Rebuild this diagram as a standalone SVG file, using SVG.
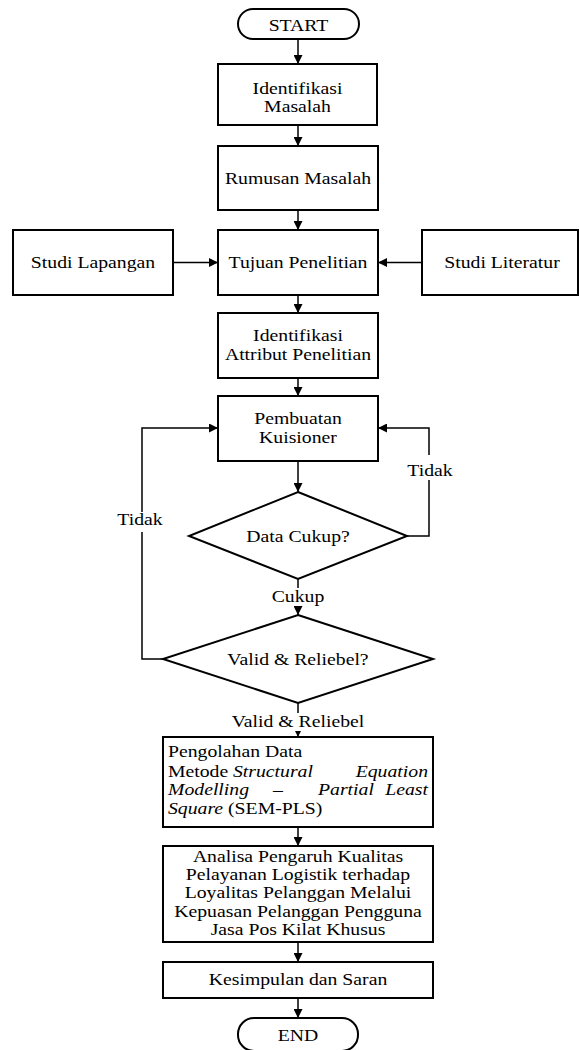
<svg xmlns="http://www.w3.org/2000/svg" width="579" height="1050" viewBox="0 0 579 1050">
<style>
.box{fill:#fff;stroke:#000;stroke-width:2}
.ln{fill:none;stroke:#000;stroke-width:1.5}
.t{font-family:"Liberation Serif","Times New Roman",serif;font-size:17px;fill:#000}
.c{text-anchor:middle}
.e{text-anchor:end}
.i{font-style:italic}
.bg{fill:#fff}
</style>
<defs>
<marker id="arr" viewBox="0 0 10 10" refX="10" refY="5" markerWidth="9" markerHeight="9" markerUnits="userSpaceOnUse" orient="auto"><path d="M0,0 L10,5 L0,10 z" fill="#000"/></marker>
</defs>
<rect width="579" height="1050" fill="#fff"/>
<g id="connectors">
<line class="ln" x1="298" y1="39" x2="298" y2="64" marker-end="url(#arr)"/>
<line class="ln" x1="298" y1="125" x2="298" y2="146" marker-end="url(#arr)"/>
<line class="ln" x1="298" y1="210" x2="298" y2="230" marker-end="url(#arr)"/>
<line class="ln" x1="173" y1="262.5" x2="218" y2="262.5" marker-end="url(#arr)"/>
<line class="ln" x1="422" y1="262.5" x2="378" y2="262.5" marker-end="url(#arr)"/>
<line class="ln" x1="298" y1="295" x2="298" y2="313" marker-end="url(#arr)"/>
<line class="ln" x1="298" y1="378" x2="298" y2="396" marker-end="url(#arr)"/>
<line class="ln" x1="298" y1="461" x2="298" y2="492" marker-end="url(#arr)"/>
<polyline class="ln" points="407,536 429,536 429,428 378,428" marker-end="url(#arr)"/>
<line class="ln" x1="298" y1="579" x2="298" y2="615" marker-end="url(#arr)"/>
<polyline class="ln" points="163,659 142,659 142,428 218,428" marker-end="url(#arr)"/>
<line class="ln" x1="298" y1="703" x2="298" y2="737" marker-end="url(#arr)"/>
<line class="ln" x1="298" y1="827" x2="298" y2="846" marker-end="url(#arr)"/>
<line class="ln" x1="298" y1="942" x2="298" y2="962" marker-end="url(#arr)"/>
<line class="ln" x1="298" y1="998" x2="298" y2="1018" marker-end="url(#arr)"/>
<rect class="bg" x="406" y="455" width="48" height="25"/>
<text class="t c" transform="translate(430,476) scale(1.16,1)">Tidak</text>
<rect class="bg" x="116" y="512" width="48" height="20"/>
<text class="t c" transform="translate(140,525) scale(1.16,1)">Tidak</text>
<rect class="bg" x="270" y="588" width="56" height="18"/>
<text class="t c" transform="translate(298,602) scale(1.16,1)">Cukup</text>
<rect class="bg" x="234" y="713" width="128" height="18"/>
<text class="t c" transform="translate(298,727) scale(1.16,1)">Valid &amp; Reliebel</text>
</g>
<g id="start">
<rect class="box" x="238" y="9" width="121" height="30" rx="15"/>
<text class="t c" transform="translate(298.5,31) scale(1.16,1)">START</text>
</g>
<g id="identifikasi-masalah">
<rect class="box" x="218" y="64" width="159" height="61"/>
<text class="t c" transform="translate(297.5,93.5) scale(1.16,1)">Identifikasi</text>
<text class="t c" transform="translate(297.5,112) scale(1.16,1)">Masalah</text>
</g>
<g id="rumusan-masalah">
<rect class="box" x="218" y="146" width="160" height="64"/>
<text class="t c" transform="translate(298,184) scale(1.16,1)">Rumusan Masalah</text>
</g>
<g id="tujuan-penelitian">
<rect class="box" x="218" y="230" width="160" height="65"/>
<text class="t c" transform="translate(298,268) scale(1.16,1)">Tujuan Penelitian</text>
</g>
<g id="studi-lapangan">
<rect class="box" x="13" y="230" width="160" height="65"/>
<text class="t c" transform="translate(93,268) scale(1.16,1)">Studi Lapangan</text>
</g>
<g id="studi-literatur">
<rect class="box" x="422" y="230" width="156" height="65"/>
<text class="t c" transform="translate(502,268) scale(1.16,1)">Studi Literatur</text>
</g>
<g id="identifikasi-attribut">
<rect class="box" x="218" y="313" width="160" height="65"/>
<text class="t c" transform="translate(298,341) scale(1.16,1)">Identifikasi</text>
<text class="t c" transform="translate(298,360) scale(1.16,1)">Attribut Penelitian</text>
</g>
<g id="pembuatan-kuisioner">
<rect class="box" x="218" y="396" width="160" height="65"/>
<text class="t c" transform="translate(298,424) scale(1.16,1)">Pembuatan</text>
<text class="t c" transform="translate(298,443) scale(1.16,1)">Kuisioner</text>
</g>
<g id="data-cukup">
<polygon class="box" points="298,492 407,536 298,579 189,536"/>
<text class="t c" transform="translate(298,542) scale(1.16,1)">Data Cukup?</text>
</g>
<g id="valid-reliebel">
<polygon class="box" points="298,615 433,659 298,703 163,659"/>
<text class="t c" transform="translate(298,665) scale(1.16,1)">Valid &amp; Reliebel?</text>
</g>
<g id="pengolahan-data">
<rect class="box" x="163" y="737" width="270" height="90"/>
<text class="t" transform="translate(168,757) scale(1.16,1)">Pengolahan Data</text>
<text class="t" transform="translate(168,777) scale(1.16,1)">Metode</text>
<text class="t i" transform="translate(233,777) scale(1.16,1)">Structural</text>
<text class="t i e" transform="translate(428,777) scale(1.16,1)">Equation</text>
<text class="t i" transform="translate(168,795) scale(1.16,1)">Modelling</text>
<text class="t i" transform="translate(273,795) scale(1.16,1)">–</text>
<text class="t i" transform="translate(318,795) scale(1.16,1)">Partial</text>
<text class="t i e" transform="translate(428,795) scale(1.16,1)">Least</text>
<text class="t" transform="translate(168,814) scale(1.16,1)"><tspan class="i">Square</tspan> (SEM-PLS)</text>
</g>
<g id="analisa">
<rect class="box" x="163" y="846" width="270" height="96"/>
<text class="t c" transform="translate(298,862) scale(1.16,1)">Analisa Pengaruh Kualitas</text>
<text class="t c" transform="translate(298,880) scale(1.16,1)">Pelayanan Logistik terhadap</text>
<text class="t c" transform="translate(298,898) scale(1.16,1)">Loyalitas Pelanggan Melalui</text>
<text class="t c" transform="translate(298,917) scale(1.16,1)">Kepuasan Pelanggan Pengguna</text>
<text class="t c" transform="translate(298,935) scale(1.16,1)">Jasa Pos Kilat Khusus</text>
</g>
<g id="kesimpulan">
<rect class="box" x="163" y="962" width="270" height="36"/>
<text class="t c" transform="translate(298,985) scale(1.16,1)">Kesimpulan dan Saran</text>
</g>
<g id="end">
<rect class="box" x="238" y="1018" width="120" height="33" rx="16"/>
<text class="t c" transform="translate(298,1041) scale(1.16,1)">END</text>
</g>
</svg>
